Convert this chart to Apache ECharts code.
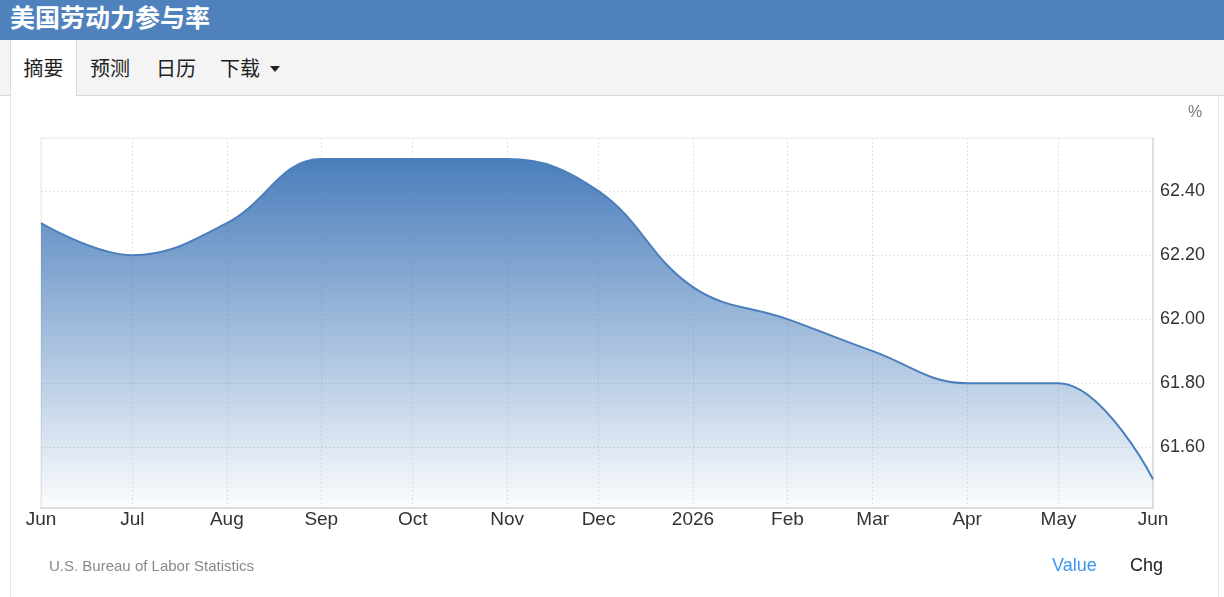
<!DOCTYPE html>
<html>
<head>
<meta charset="utf-8">
<script src="https://cdn.jsdelivr.net/npm/echarts@6/dist/echarts.min.js"></script>
<style>
  html, body { margin:0; padding:0; width:1224px; height:597px; overflow:hidden; background:#fff;
    font-family: "Liberation Sans", Arial, "Noto Sans CJK SC", sans-serif; }
  #hdr { position:absolute; left:0; top:0; width:1224px; height:40px; background:#4f81bd; }
  #hdr span { position:absolute; left:10px; top:1px; color:#fff; font-weight:bold; font-size:25px;
    font-family: "Noto Sans CJK SC", sans-serif; line-height:30px; }
  #tabs { position:absolute; left:0; top:40px; width:1224px; height:55px; background:#f4f4f4; border-bottom:1px solid #d9d9d9; }
  .tab { position:absolute; top:0; height:55px; line-height:55px; font-size:20px; color:#222;
    font-family: "Noto Sans CJK SC", sans-serif; }
  .tab.sel { background:#fff; border-left:1px solid #dcdcdc; border-right:1px solid #dcdcdc; height:56px; }
  .caret { display:inline-block; width:0; height:0; border-left:5px solid transparent; border-right:5px solid transparent;
    border-top:6px solid #222; position:relative; top:-4px; margin-left:10px; }
  #frame { position:absolute; left:10px; top:96px; width:1207px; height:501px; border-left:1px solid #e3e3e3; border-right:1px solid #e3e3e3; }
  #chart { position:absolute; left:11px; top:96px; width:1206px; height:501px; }
  .foot { position:absolute; }
</style>
</head>
<body>
<div id="hdr"><span>美国劳动力参与率</span></div>
<div id="tabs">
  <div class="tab sel" style="left:10px;width:65px;text-align:center;">摘要</div>
  <div class="tab" style="left:90px;">预测</div>
  <div class="tab" style="left:156px;">日历</div>
  <div class="tab" style="left:220px;">下载<span class="caret"></span></div>
</div>
<div id="frame"></div>
<div id="chart"></div>
<div class="foot" style="left:1188px;top:103px;font-size:16px;color:#777;">%</div>
<div class="foot" style="left:49px;top:557px;font-size:15px;color:#888;">U.S. Bureau of Labor Statistics</div>
<div class="foot" style="left:1052px;top:555px;font-size:18px;color:#3d95ee;">Value</div>
<div class="foot" style="left:1130px;top:555px;font-size:18px;color:#222;">Chg</div>
<script>
const dates = ['2025-06-01','2025-07-01','2025-08-01','2025-09-01','2025-10-01','2025-11-01','2025-12-01',
               '2026-01-01','2026-02-01','2026-03-01','2026-04-01','2026-05-01','2026-06-01'];
const values = [62.3, 62.2, 62.3, 62.5, 62.5, 62.5, 62.4, 62.1, 62.0, 61.9, 61.8, 61.8, 61.5];
const yTicks = [61.6, 61.8, 62.0, 62.2, 62.4];
const monthNames = ['Jan','Feb','Mar','Apr','May','Jun','Jul','Aug','Sep','Oct','Nov','Dec'];

const ts = dates.map(d => { const p = d.split('-'); return Date.UTC(+p[0], +p[1]-1, +p[2]); });
const chart = echarts.init(document.getElementById('chart'), null, {renderer:'canvas'});
chart.setOption({
  animation:false,
  grid:{ left:30, top:42, right:64, bottom:89, show:true, borderColor:'#e6e6e6', borderWidth:1 },
  xAxis:{
    type:'value', min:ts[0], max:ts[ts.length-1],
    axisLine:{ show:true, lineStyle:{ color:'#dcdcdc', width:2 } },
    axisTick:{ show:false, customValues: ts },
    axisLabel:{ customValues: ts, color:'#333', fontSize:19, margin:2,
      fontFamily:'"Liberation Sans", Arial, sans-serif',
      formatter: v => { const d = new Date(v); const m = d.getUTCMonth(); return m===0 ? String(d.getUTCFullYear()) : monthNames[m]; } },
    splitLine:{ show:true, lineStyle:{ color:'#e4e4e4', type:[2,2], width:1 } }
  },
  yAxis:{
    type:'value', position:'right', min:61.41, max:62.566,
    axisLine:{ show:true, lineStyle:{ color:'#e0e0e0', width:2 } },
    axisTick:{ show:false, customValues: yTicks },
    axisLabel:{ customValues: yTicks, color:'#333', fontSize:18, margin:7,
      fontFamily:'"Liberation Sans", Arial, sans-serif',
      formatter: v => v.toFixed(2) },
    splitLine:{ show:true, lineStyle:{ color:'#e4e4e4', type:[2,2], width:1 } }
  },
  series:[{
    type:'line', smooth:0.4, symbol:'none',
    data: ts.map((t,i)=>[t, values[i]]),
    lineStyle:{ color:'#4a7ebb', width:2 },
    areaStyle:{ opacity:1, color: new echarts.graphic.LinearGradient(0,0,0,1,[
      {offset:0, color:'rgba(74,126,187,1)'},
      {offset:1, color:'rgba(74,126,187,0.02)'}
    ]) }
  }]
});
</script>
</body>
</html>
